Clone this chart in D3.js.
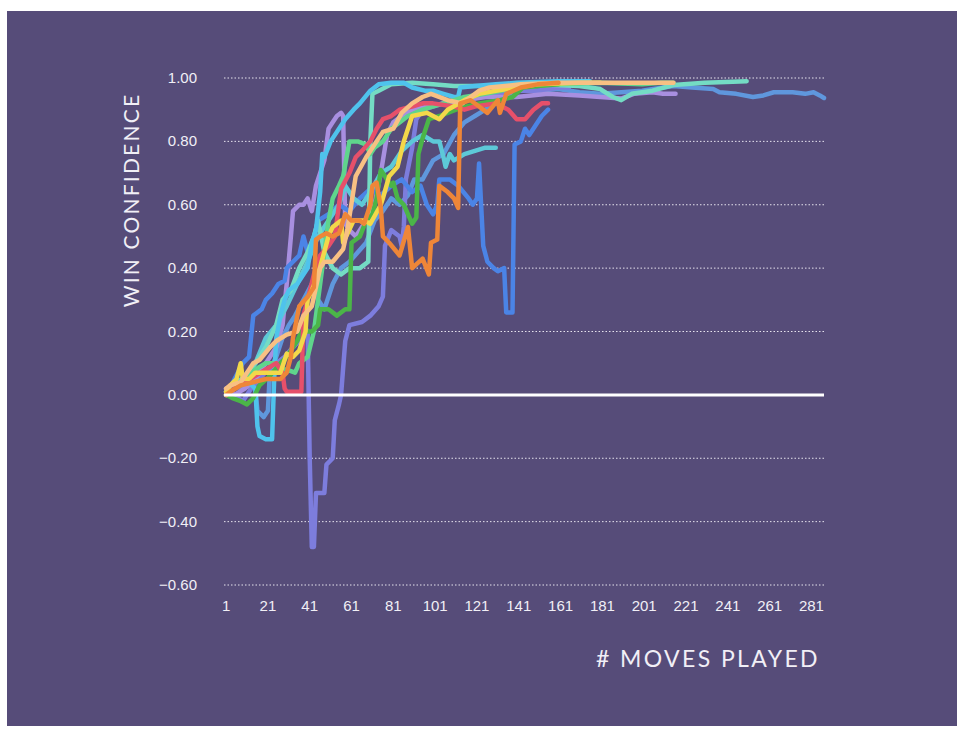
<!DOCTYPE html>
<html>
<head>
<meta charset="utf-8">
<script src="https://cdn.jsdelivr.net/npm/d3@7"></script>
<style>
  body { margin: 0; background: #ffffff; }
  svg { display: block; }
</style>
</head>
<body>
<script>
var w = 964;
var h = 733;

// tick labels
var yTicks = [-0.6, -0.4, -0.2, 0, 0.2, 0.4, 0.6, 0.8, 1.0];
var xTicks = [1, 21, 41, 61, 81, 101, 121, 141, 161, 181, 201, 221, 241, 261, 281];

// one array per game: [move, win confidence]
var steelBlue = [[1,0],[5,0.02],[10,0.03],[15,0.02],[16,-0.05],[19,-0.07],[21,-0.05],[22,0.08],[25,0.12],[28,0.18],[31,0.22],[34,0.25],[38,0.3],[42,0.35],[45,0.3],[48,0.27],[52,0.35],[56,0.4],[60,0.42],[64,0.45],[68,0.48],[72,0.55],[76,0.58],[80,0.62],[84,0.6],[88,0.63],[91,0.68],[95,0.68],[100,0.74],[105,0.76],[110,0.82],[115,0.86],[120,0.88],[125,0.9],[130,0.93],[135,0.94],[140,0.96],[150,0.96],[160,0.965],[170,0.955],[180,0.95],[190,0.955],[200,0.96],[210,0.97],[215,0.975],[224,0.97],[234,0.965],[237,0.955],[245,0.95],[253,0.94],[258,0.945],[263,0.955],[272,0.955],[278,0.95],[282,0.955],[285,0.945],[287,0.937]];
var periwinkle = [[1,0.02],[5,0],[9,-0.02],[13,0.02],[17,0.05],[21,0.08],[25,0.1],[29,0.12],[33,0.15],[36,0.17],[38,0.22],[40,0.2],[41,-0.2],[42,-0.48],[43,-0.48],[44,-0.31],[48,-0.31],[49,-0.22],[52,-0.2],[53,-0.08],[55,-0.03],[56,0],[58,0.17],[60,0.22],[66,0.23],[70,0.25],[74,0.28],[76,0.31],[77,0.47],[80,0.52],[84,0.5],[85,0.47],[86,0.53],[87,0.68],[90,0.78],[92,0.87],[95,0.9],[100,0.91],[110,0.93],[120,0.94],[130,0.95],[140,0.96],[150,0.96],[160,0.97],[165,0.97]];
var lavender = [[1,0.01],[5,0],[10,0.02],[15,0.05],[20,0.1],[25,0.15],[28,0.22],[30,0.35],[32,0.5],[33,0.58],[36,0.6],[38,0.6],[40,0.62],[42,0.58],[44,0.66],[46,0.7],[48,0.74],[50,0.84],[52,0.86],[54,0.88],[56,0.89],[57,0.88],[58,0.54],[60,0.52],[63,0.5],[66,0.53],[69,0.55],[72,0.6],[75,0.7],[78,0.82],[81,0.86],[85,0.88],[90,0.9],[98,0.91],[105,0.92],[115,0.93],[125,0.94],[140,0.94],[155,0.95],[170,0.945],[180,0.94],[190,0.935],[196,0.95],[205,0.955],[210,0.95],[216,0.95]];
var brightBlue = [[1,0],[3,0.02],[5,0.05],[9,0.1],[12,0.12],[14,0.25],[18,0.27],[20,0.3],[23,0.32],[26,0.35],[29,0.36],[30,0.4],[33,0.42],[36,0.44],[38,0.5],[40,0.45],[42,0.47],[45,0.55],[50,0.57],[55,0.6],[60,0.58],[65,0.62],[70,0.65],[75,0.63],[80,0.66],[85,0.68],[90,0.64],[94,0.66],[97,0.6],[100,0.57],[102,0.6],[103,0.68],[108,0.68],[112,0.66],[117,0.62],[119,0.6],[121,0.62],[122,0.73],[123,0.6],[124,0.47],[126,0.42],[129,0.4],[131,0.39],[134,0.4],[135,0.26],[138,0.26],[139,0.79],[142,0.8],[144,0.84],[146,0.82],[149,0.85],[152,0.88],[155,0.9]];
var lightTeal = [[1,0.01],[5,0.02],[10,0.05],[15,0.1],[20,0.18],[25,0.22],[30,0.28],[35,0.35],[40,0.42],[45,0.5],[50,0.55],[55,0.6],[58,0.66],[62,0.62],[66,0.6],[70,0.64],[75,0.7],[80,0.72],[85,0.77],[90,0.8],[95,0.82],[100,0.8],[103,0.8],[105,0.75],[106,0.72],[108,0.76],[110,0.74],[115,0.76],[120,0.77],[125,0.78],[130,0.78]];
var teal = [[1,0],[5,0.03],[10,0.06],[15,0.1],[20,0.15],[25,0.22],[28,0.3],[32,0.33],[36,0.4],[40,0.45],[43,0.5],[45,0.55],[48,0.45],[52,0.4],[56,0.38],[60,0.4],[65,0.4],[69,0.42],[70,0.8],[71,0.95],[74,0.96],[77,0.97],[80,0.98],[90,0.985],[100,0.98],[110,0.975],[130,0.975],[150,0.98],[170,0.975],[180,0.965],[186,0.94],[190,0.93],[195,0.95],[205,0.96],[215,0.978],[230,0.985],[250,0.99]];
var cyan = [[1,0],[5,0.03],[10,0.05],[15,0.02],[16,-0.1],[17,-0.13],[20,-0.14],[23,-0.14],[24,0.05],[25,0.18],[27,0.25],[29,0.3],[31,0.33],[35,0.35],[40,0.4],[42,0.48],[44,0.52],[46,0.64],[47,0.76],[48,0.75],[51,0.8],[54,0.83],[58,0.87],[62,0.9],[65,0.92],[70,0.96],[74,0.98],[80,0.985],[86,0.985],[90,0.97],[96,0.96],[100,0.96],[105,0.95],[110,0.94],[112,0.94],[113,0.97],[120,0.975],[130,0.98],[140,0.985],[160,0.99],[175,0.99]];
var mint = [[1,0],[5,0.02],[10,0.05],[15,0.08],[20,0.1],[25,0.1],[28,0.08],[30,0.08],[34,0.07],[36,0.1],[40,0.12],[43,0.2],[46,0.35],[50,0.55],[52,0.62],[55,0.66],[57,0.69],[60,0.8],[64,0.8],[68,0.79],[70,0.76],[72,0.78],[76,0.8],[80,0.84],[84,0.86],[88,0.88],[95,0.9],[105,0.92],[115,0.94],[125,0.95],[140,0.97],[160,0.98],[180,0.985],[200,0.98],[209,0.985],[215,0.985]];
var green = [[1,0],[4,-0.01],[8,-0.02],[11,-0.03],[14,-0.01],[17,0.03],[22,0.06],[27,0.1],[30,0.12],[35,0.17],[37,0.2],[42,0.2],[45,0.22],[46,0.27],[50,0.27],[54,0.25],[58,0.27],[60,0.27],[61,0.48],[65,0.5],[68,0.55],[71,0.57],[73,0.62],[75,0.71],[78,0.68],[80,0.66],[81,0.67],[83,0.62],[86,0.6],[90,0.54],[92,0.56],[93,0.76],[95,0.81],[98,0.87],[103,0.88],[111,0.9],[116,0.91],[122,0.92],[132,0.93],[138,0.94],[143,0.97],[150,0.975],[160,0.98]];
var red = [[1,0],[5,0.02],[10,0.04],[15,0.06],[20,0.08],[25,0.1],[28,0.07],[29,0.02],[30,0.01],[37,0.01],[38,0.25],[40,0.3],[43,0.38],[46,0.44],[50,0.47],[53,0.5],[56,0.65],[60,0.7],[63,0.75],[66,0.77],[70,0.8],[73,0.84],[76,0.87],[80,0.88],[84,0.9],[90,0.91],[95,0.92],[100,0.92],[110,0.91],[115,0.9],[120,0.91],[130,0.92],[136,0.9],[140,0.87],[144,0.87],[148,0.9],[152,0.92],[155,0.92]];
var yellow = [[1,0.01],[3,0.03],[6,0.05],[8,0.1],[9,0.05],[12,0.05],[15,0.07],[20,0.07],[27,0.07],[30,0.13],[33,0.12],[36,0.14],[39,0.2],[40,0.3],[42,0.33],[45,0.38],[50,0.5],[52,0.53],[56,0.55],[57,0.48],[62,0.55],[67,0.55],[70,0.54],[75,0.6],[76,0.62],[79,0.69],[83,0.72],[86,0.8],[88,0.84],[90,0.88],[97,0.89],[103,0.87],[107,0.9],[115,0.93],[122,0.95],[130,0.96],[140,0.97],[150,0.98],[170,0.985],[180,0.985]];
var peach = [[1,0.02],[3,0.03],[8,0.04],[11,0.07],[14,0.1],[17,0.11],[22,0.15],[25,0.17],[30,0.19],[35,0.2],[38,0.25],[42,0.28],[46,0.4],[48,0.42],[52,0.42],[57,0.46],[59,0.52],[63,0.69],[68,0.75],[73,0.8],[76,0.83],[81,0.84],[85,0.89],[90,0.92],[95,0.94],[99,0.95],[107,0.93],[114,0.92],[122,0.96],[127,0.97],[142,0.98],[160,0.985],[180,0.985],[200,0.985],[215,0.985]];
var orange = [[1,0],[3,0.01],[8,0.03],[14,0.04],[20,0.05],[27,0.05],[30,0.07],[32,0.12],[33,0.18],[36,0.28],[40,0.31],[43,0.34],[44,0.49],[46,0.5],[49,0.51],[52,0.5],[55,0.51],[58,0.57],[61,0.55],[65,0.55],[67,0.54],[70,0.6],[71,0.66],[73,0.67],[75,0.59],[76,0.5],[79,0.48],[84,0.44],[88,0.53],[90,0.4],[95,0.43],[98,0.38],[99,0.48],[102,0.49],[103,0.66],[107,0.64],[110,0.62],[112,0.59],[113,0.92],[118,0.93],[122,0.91],[126,0.89],[131,0.93],[132,0.89],[135,0.95],[142,0.97],[150,0.98],[160,0.985]];

var games = [steelBlue, periwinkle, lavender, brightBlue, lightTeal, teal, cyan, mint, green, red, yellow, peach, orange];
var gameColors = ["#5f97dd", "#7d7ddd", "#a88fe0", "#4b84e6", "#5dc9d8", "#74dcc4", "#4fc3ec", "#5fd58c", "#4bb548", "#e6506a", "#f3d84a", "#f8c083", "#ee8638"];

var svg = d3.select("body")
            .append("svg")
                .attr("width", w)
                .attr("height", h);

svg.append("rect")
    .attr("x", 7)
    .attr("y", 11)
    .attr("width", 950)
    .attr("height", 715)
    .attr("fill", "#564c79");

var x = d3.scaleLinear().domain([0, 287]).range([224, 824]);
var y = d3.scaleLinear().domain([-0.6, 1]).range([585, 78]);

// dotted grid
svg.selectAll("line.grid")
    .data(yTicks.filter(function(d) { return d !== 0; }))
    .enter()
    .append("line")
        .attr("class", "grid")
        .attr("x1", x(0))
        .attr("x2", x(287))
        .attr("y1", function(d) { return y(d); })
        .attr("y2", function(d) { return y(d); })
        .attr("stroke", "#e6e3ee")
        .attr("stroke-width", 1)
        .attr("stroke-dasharray", "1.5,2");

// y labels
svg.selectAll("text.ytick")
    .data(yTicks)
    .enter()
    .append("text")
        .attr("class", "ytick")
        .text(function(d) { return d3.format(".2f")(d); })
        .attr("x", 197)
        .attr("y", function(d) { return y(d) + 5; })
        .attr("text-anchor", "end")
        .attr("font-family", "Liberation Sans, Arial, sans-serif")
        .attr("font-size", 15)
        .attr("fill", "#f1eff6");

// x labels
svg.selectAll("text.xtick")
    .data(xTicks)
    .enter()
    .append("text")
        .attr("class", "xtick")
        .text(function(d) { return d; })
        .attr("x", function(d) { return x(d); })
        .attr("y", 611)
        .attr("text-anchor", "middle")
        .attr("font-family", "Liberation Sans Narrow, Liberation Sans, Arial, sans-serif")
        .attr("font-size", 15)
        .attr("fill", "#f1eff6");

var line = d3.line()
    .x(function(d) { return x(d[0]); })
    .y(function(d) { return y(d[1]); });

svg.selectAll("path.game")
    .data(games)
    .enter()
    .append("path")
        .attr("class", "game")
        .attr("d", line)
        .attr("fill", "none")
        .attr("stroke", function(d, i) { return gameColors[i]; })
        .attr("stroke-width", 4.5)
        .attr("stroke-linejoin", "round")
        .attr("stroke-linecap", "round");

// zero line on top
svg.append("line")
    .attr("x1", x(0))
    .attr("x2", x(287))
    .attr("y1", y(0))
    .attr("y2", y(0))
    .attr("stroke", "#ffffff")
    .attr("stroke-width", 3);

svg.append("text")
    .text("WIN CONFIDENCE")
    .attr("transform", "translate(139,200) rotate(-90)")
    .attr("text-anchor", "middle")
    .attr("font-family", "Lato, Open Sans, sans-serif")
    .attr("font-size", 21)
    .attr("letter-spacing", 2.2)
    .attr("fill", "#f1eff6");

svg.append("text")
    .text("# MOVES PLAYED")
    .attr("x", 820)
    .attr("y", 667)
    .attr("text-anchor", "end")
    .attr("font-family", "Lato, Open Sans, sans-serif")
    .attr("font-size", 23)
    .attr("letter-spacing", 2.4)
    .attr("fill", "#f1eff6");
</script>
</body>
</html>
